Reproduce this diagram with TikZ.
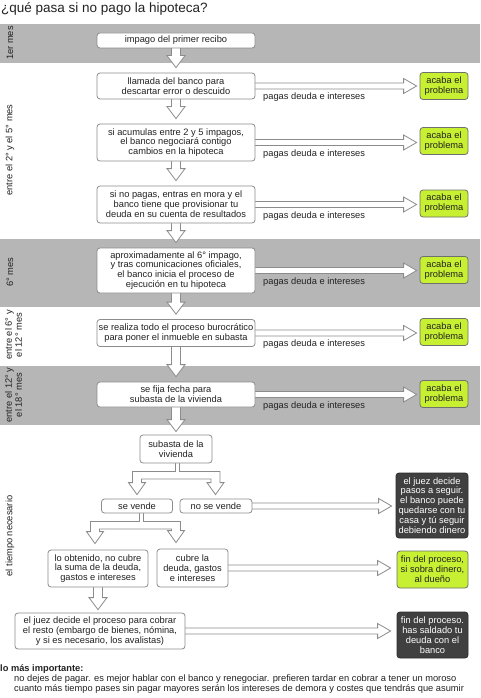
\documentclass[tikz,border=0pt]{standalone}
\usepackage{fontspec}
\setmainfont{Liberation Sans}
\usetikzlibrary{calc}
\definecolor{band}{RGB}{182,182,182}
\definecolor{edge}{RGB}{140,140,140}
\definecolor{lime}{RGB}{200,240,50}
\definecolor{dark}{RGB}{64,64,64}
\definecolor{ink}{RGB}{34,34,34}
\pgfdeclarelayer{bands}\pgfdeclarelayer{arrows}\pgfsetlayers{bands,arrows,main}
\newcommand\harr[3]{\begin{pgfonlayer}{arrows}\draw[arr] let \p1=(#1), \p2=(#2) in (\x1-1pt,\y1+3pt) -- (\x2-#3pt-13pt,\y1+3pt) -- (\x2-#3pt-13pt,\y1+7.5pt) -- (\x2-#3pt,\y1) -- (\x2-#3pt-13pt,\y1-7.5pt) -- (\x2-#3pt-13pt,\y1-3pt) -- (\x1-1pt,\y1-3pt);\end{pgfonlayer}}
\newcommand\varr[3]{\begin{pgfonlayer}{arrows}\draw[arr] let \p1=(#1), \p2=(#2) in (\x1-4.5pt,\y1+1pt) -- (\x1-4.5pt,\y2+#3pt+12pt) -- (\x1-9pt,\y2+#3pt+12pt) -- (\x1,\y2+#3pt) -- (\x1+9pt,\y2+#3pt+12pt) -- (\x1+4.5pt,\y2+#3pt+12pt) -- (\x1+4.5pt,\y1+1pt);\end{pgfonlayer}}
\newcommand\splitarr[4]{\begin{pgfonlayer}{arrows}\draw[arr] let \p1=(#1), \p2=(#2), \p3=(#3) in
 (\x1-2pt,\y1+1pt) -- (\x1-2pt,\y1-8pt) -- (\x2-4.5pt,\y1-8pt) -- (\x2-4.5pt,\y2+#4pt+12pt) -- (\x2-8.5pt,\y2+#4pt+12pt) -- (\x2,\y2+#4pt) -- (\x2+8.5pt,\y2+#4pt+12pt) -- (\x2+4.5pt,\y2+#4pt+12pt) -- (\x2+4.5pt,\y1-15.5pt) -- (\x3-4.5pt,\y1-15.5pt) -- (\x3-4.5pt,\y3+#4pt+12pt) -- (\x3-8.5pt,\y3+#4pt+12pt) -- (\x3,\y3+#4pt) -- (\x3+8.5pt,\y3+#4pt+12pt) -- (\x3+4.5pt,\y3+#4pt+12pt) -- (\x3+4.5pt,\y1-8pt) -- (\x1+2pt,\y1-8pt) -- (\x1+2pt,\y1+1pt);\end{pgfonlayer}}
\begin{document}
\begin{tikzpicture}[x=1pt,y=-1pt,
 every node/.style={inner sep=0pt, font=\fontsize{9.3}{9.9}\selectfont, text=ink},
 box/.style={draw=edge, fill=white, rounded corners=3pt, line width=0.8pt, align=center},
 mainbox/.style={box, minimum width=158},
 okbox/.style={box, fill=lime, draw=edge!80!black, minimum width=48, minimum height=27},
 darkbox/.style={box, fill=dark, draw=dark!70!black, text=white},
 arr/.style={draw=edge, fill=white, line width=0.8pt, line join=miter},
 lbl/.style={anchor=west},
 side/.style={rotate=90, align=center}]
\useasboundingbox (0,0) rectangle (480,698);
\begin{pgfonlayer}{bands}
\fill[white] (0,0) rectangle (480,698);
\fill[band] (0,24) rectangle (480,63);
\fill[band] (0,239) rectangle (480,307);
\fill[band] (0,366) rectangle (480,425);
\end{pgfonlayer}
% title
\node[anchor=base west, font=\fontsize{13.5}{15}\selectfont] (title) at (1,12.5) {¿qué pasa si no pago la hipoteca?};
% side labels
\node[side] (s1) at (10,43) {1er mes};
\node[side] (s2) at (10,150) {entre el 2° y el 5° mes};
\node[side] (s3) at (10,272) {6° mes};
\node[side] (s4) at (13.5,335) {entre el 6° y\\el 12° mes};
\node[side] (s5) at (13.5,395) {entre el 12° y\\el 18° mes};
\node[side] (s6) at (10,536) {el tiempo necesario};
% main column
\node[mainbox, minimum height=15] (b1) at (176,40.5) {impago del primer recibo};
\node[mainbox, minimum height=26] (b2) at (176,86) {llamada del banco para\\descartar error o descuido};
\node[mainbox, minimum height=37] (b3) at (176,142.5) {si acumulas entre 2 y 5 impagos,\\el banco negociará contigo\\cambios en la hipoteca};
\node[mainbox, minimum height=37] (b4) at (176,204.5) {si no pagas, entras en mora y el\\banco tiene que provisionar tu\\deuda en su cuenta de resultados};
\node[mainbox, minimum height=45] (b5) at (176,270.5) {aproximadamente al 6° impago,\\y tras comunicaciones oficiales,\\el banco inicia el proceso de\\ejecución en tu hipoteca};
\node[mainbox, minimum height=27] (b6) at (176,333) {se realiza todo el proceso burocrático\\para poner el inmueble en subasta};
\node[mainbox, minimum height=25] (b7) at (176,394.5) {se fija fecha para\\subasta de la vivienda};
% green boxes
\node[okbox] (g2) at (444,86) {acaba el\\problema};
\node[okbox] (g3) at (444,141) {acaba el\\problema};
\node[okbox] (g4) at (444,203.5) {acaba el\\problema};
\node[okbox] (g5) at (444,270) {acaba el\\problema};
\node[okbox] (g6) at (444,332) {acaba el\\problema};
\node[okbox] (g7) at (444,394) {acaba el\\problema};
% labels
\node[lbl] (p2) at (263,97.5) {pagas deuda e intereses};
\node[lbl] (p3) at (263,154) {pagas deuda e intereses};
\node[lbl] (p4) at (263,216) {pagas deuda e intereses};
\node[lbl] (p5) at (263,282) {pagas deuda e intereses};
\node[lbl] (p6) at (263,344.5) {pagas deuda e intereses};
\node[lbl] (p7) at (263,406) {pagas deuda e intereses};
% lower part
\node[box, minimum width=72, minimum height=28] (b8) at (176,449) {subasta de la\\vivienda};
\node[box, minimum width=71, minimum height=14] (sv) at (137,506) {se vende};
\node[box, minimum width=72, minimum height=14] (nsv) at (216,506) {no se vende};
\node[darkbox, minimum width=72, minimum height=65] (d1) at (432,505.5) {el juez decide\\pasos a seguir.\\el banco puede\\quedarse con tu\\casa y tú seguir\\debiendo dinero};
\node[box, minimum width=100, minimum height=37] (lo) at (98,568.5) {lo obtenido, no cubre\\la suma de la deuda,\\gastos e intereses};
\node[box, minimum width=71, minimum height=38] (cu) at (192.5,568) {cubre la\\deuda, gastos\\e intereses};
\node[okbox, minimum width=71, minimum height=37] (g8) at (432.5,569.5) {fin del proceso,\\si sobra dinero,\\al dueño};
\node[box, minimum width=170, minimum height=36] (jz) at (100,631) {el juez decide el proceso para cobrar\\el resto (embargo de bienes, nómina,\\y si es necesario, los avalistas)};
\node[darkbox, minimum width=71, minimum height=46] (d2) at (432.5,635) {fin del proceso.\\has saldado tu\\deuda con el\\banco};
% bottom text
\node[anchor=base west, font=\bfseries\fontsize{9.3}{9.9}\selectfont] (imp) at (0,671) {lo más importante:};
\node[anchor=base west] (t1) at (14,681) {no dejes de pagar. es mejor hablar con el banco y renegociar. prefieren tardar en cobrar a tener un moroso};
\node[anchor=base west] (t2) at (14,691) {cuanto más tiempo pases sin pagar mayores serán los intereses de demora y costes que tendrás que asumir};
% arrows
\varr{b1.south}{b2.north}{5}
\varr{b2.south}{b3.north}{5}
\varr{b3.south}{b4.north}{5}
\varr{b4.south}{b5.north}{5}
\varr{b5.south}{b6.north}{5}
\varr{b6.south}{b7.north}{5}
\varr{b7.south}{b8.north}{3}
\harr{b2.east}{g2.west}{3}
\harr{b3.east}{g3.west}{3}
\harr{b4.east}{g4.west}{3}
\harr{b5.east}{g5.west}{3}
\harr{b6.east}{g6.west}{3}
\harr{b7.east}{g7.west}{3}
\splitarr{$(b8.south)+(1.5,0)$}{sv.north}{$(nsv.north)+(-0.5,0)$}{4}
\splitarr{$(sv.south)+(4.5,0)$}{$(lo.north)+(-3,0)$}{$(cu.north)+(-16.5,0)$}{6}
\harr{nsv.east}{d1.west}{4}
\harr{cu.east}{g8.west}{6}
\harr{jz.east}{d2.west}{6}
\varr{lo.south}{jz.north}{3}
\end{tikzpicture}
\end{document}
